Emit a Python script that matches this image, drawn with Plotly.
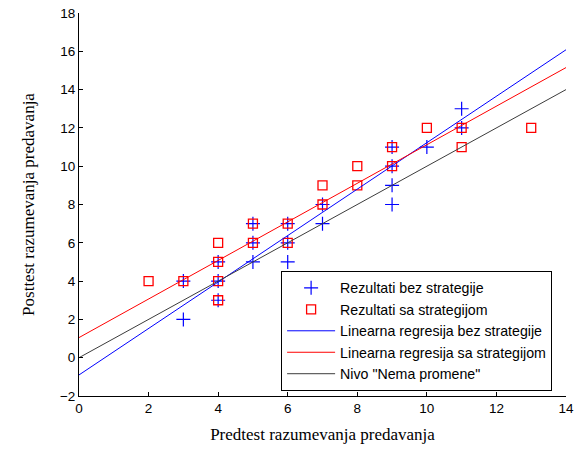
import plotly.graph_objects as go

# Pretest / posttest scores without the strategy
bez_x = [3, 3, 4, 4, 4, 5, 5, 5, 6, 6, 6, 7, 7, 9, 9, 9, 9, 10, 11, 11]
bez_y = [2, 4, 3, 4, 5, 5, 6, 7, 5, 6, 7, 7, 8, 8, 9, 10, 11, 11, 12, 13]

# Pretest / posttest scores with the strategy
sa_x = [2, 3, 4, 4, 4, 4, 5, 5, 6, 6, 7, 7, 8, 8, 9, 9, 10, 11, 11, 13]
sa_y = [4, 4, 3, 4, 5, 6, 6, 7, 6, 7, 8, 9, 9, 10, 10, 11, 12, 11, 12, 12]

# Fitted regression lines and the "no change" level, evaluated at the x-range ends
line_x = [0, 14]
reg_bez = [-0.9, 16.08]
reg_sa = [1.05, 15.15]
nivo = [0, 14]

fig = go.Figure()
fig.add_trace(go.Scatter(
    x=bez_x, y=bez_y, mode="markers", name="Rezultati bez strategije",
    marker=dict(symbol="cross-thin-open", size=10, color="#0000ff",
                line=dict(color="#0000ff", width=1.2)),
))
fig.add_trace(go.Scatter(
    x=sa_x, y=sa_y, mode="markers", name="Rezultati sa strategijom",
    marker=dict(symbol="square-open", size=9, color="#ff0000",
                line=dict(color="#ff0000", width=1.3)),
))
fig.add_trace(go.Scatter(
    x=line_x, y=reg_bez, mode="lines", name="Linearna regresija bez strategije",
    line=dict(color="#0000ff", width=1),
))
fig.add_trace(go.Scatter(
    x=line_x, y=reg_sa, mode="lines", name="Linearna regresija sa strategijom",
    line=dict(color="#ff0000", width=1),
))
fig.add_trace(go.Scatter(
    x=line_x, y=nivo, mode="lines", name='Nivo "Nema promene"',
    line=dict(color="#3c3c3c", width=1),
))

axis_common = dict(
    showline=True, linecolor="black", linewidth=1, mirror=False, automargin=False,
    ticks="inside", ticklen=4, tickcolor="black", showgrid=False, zeroline=False,
    tickfont=dict(family="Arial, Liberation Sans", size=13.5, color="black"),
)

fig.update_layout(
    width=574, height=451,
    margin=dict(l=79, r=8, t=13, b=55, autoexpand=False),
    plot_bgcolor="white", paper_bgcolor="white",
    showlegend=True,
    legend=dict(
        x=0.415, y=0.326, xanchor="left", yanchor="top",
        bgcolor="white", bordercolor="black", borderwidth=1,
        font=dict(family="Arial, Liberation Sans", size=14.2, color="black"),
        itemwidth=48, tracegroupgap=0,
    ),
    xaxis=dict(range=[0, 14], tickvals=[0, 2, 4, 6, 8, 10, 12, 14],
               title=dict(text="Predtest razumevanja predavanja",
                          font=dict(family="Times New Roman, Liberation Serif", size=17, color="black"),
                          standoff=12),
               **axis_common),
    yaxis=dict(range=[-2, 18], tickvals=list(range(-2, 19, 2)),
               title=dict(text="Posttest razumevanja predavanja",
                          font=dict(family="Times New Roman, Liberation Serif", size=17, color="black"),
                          standoff=20),
               **axis_common),
)

fig.write_html("out.html")
